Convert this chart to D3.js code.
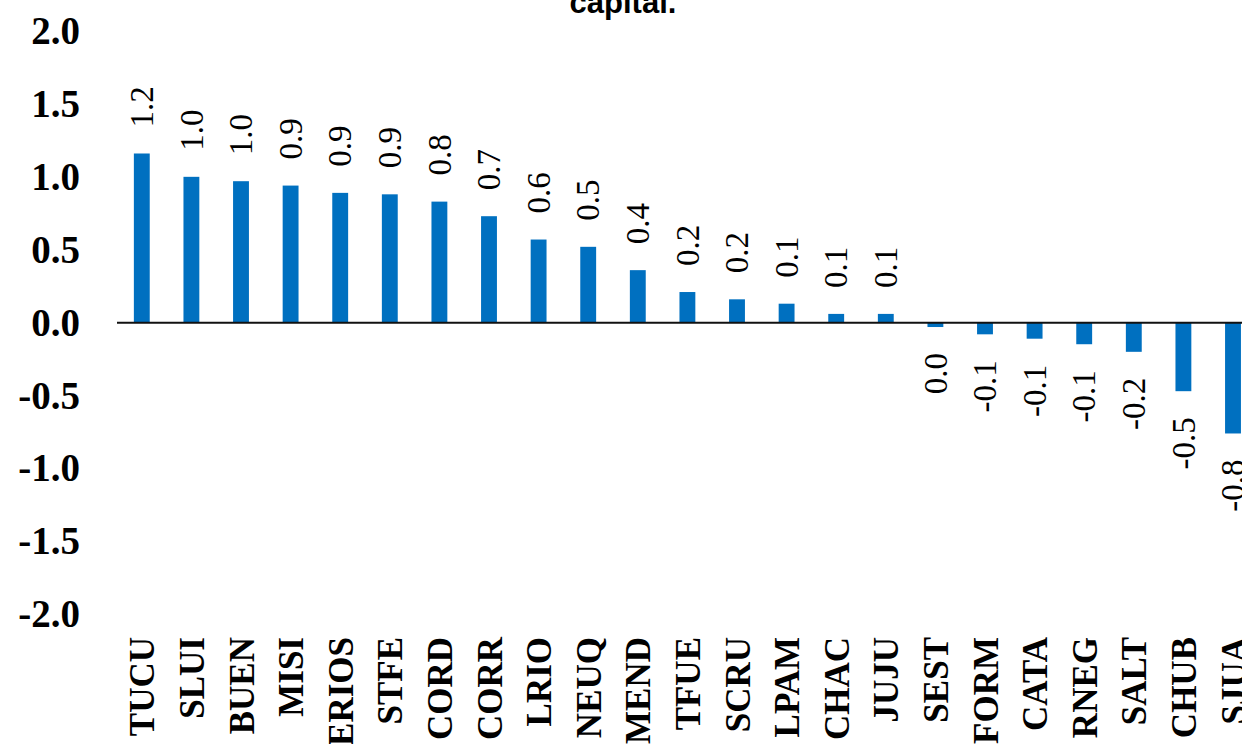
<!DOCTYPE html>
<html>
<head>
<meta charset="utf-8">
<script src="https://cdn.jsdelivr.net/npm/d3@7"></script>
<style>
  html, body { margin: 0; padding: 0; background: #fff; overflow: hidden; }
  svg { display: block; }
</style>
</head>
<body>
<div id="chart"></div>
<script>
// Provinces and their values
var provinces = ["TUCU", "SLUI", "BUEN", "MISI", "ERIOS", "STFE", "CORD", "CORR",
                 "LRIO", "NEUQ", "MEND", "TFUE", "SCRU", "LPAM", "CHAC", "JUJU",
                 "SEST", "FORM", "CATA", "RNEG", "SALT", "CHUB", "SJUA"];
var values = [1.16, 1.00, 0.97, 0.94, 0.89, 0.88, 0.83, 0.73,
              0.57, 0.52, 0.36, 0.21, 0.16, 0.13, 0.06, 0.06,
              -0.03, -0.08, -0.11, -0.148, -0.20, -0.47, -0.76];
var yTicks = [-2.0, -1.5, -1.0, -0.5, 0.0, 0.5, 1.0, 1.5, 2.0];
var titleText = "capital.";

var data = provinces.map(function (p, i) { return { name: p, value: values[i] }; });

var W = 1242, H = 744;
var fmt = d3.formatLocale({ decimal: ".", thousands: ",", grouping: [3], currency: ["", ""], minus: "-" }).format(".1f");

var svg = d3.select("#chart").append("svg")
    .attr("width", W)
    .attr("height", H);

// Scales
var x = d3.scaleBand()
    .domain(provinces)
    .range([117, 117 + 49.6 * provinces.length])
    .paddingInner(0.68)
    .paddingOuter(0.34);

var y = d3.scaleLinear()
    .domain([-2, 2])
    .range([614.3, 31]);

// Title (last line only visible)
svg.append("text")
    .attr("x", 623)
    .attr("y", 13)
    .attr("text-anchor", "middle")
    .attr("font-family", "'Liberation Sans', Arial, sans-serif")
    .attr("font-weight", "bold")
    .attr("font-size", "31px")
    .attr("fill", "#000")
    .text(titleText);

// Y axis
var yAxis = svg.append("g")
    .attr("transform", "translate(117,0)")
    .call(d3.axisLeft(y).tickValues(yTicks).tickFormat(fmt).tickSize(0).tickPadding(37));
yAxis.select(".domain").remove();
yAxis.selectAll("text")
    .attr("font-family", "'Liberation Serif', 'Times New Roman', serif")
    .attr("font-weight", "bold")
    .attr("font-size", "39px")
    .attr("fill", "#000");

// Bars
svg.selectAll(".bar")
    .data(data)
    .enter().append("rect")
    .attr("class", "bar")
    .attr("x", function (d) { return x(d.name); })
    .attr("width", x.bandwidth())
    .attr("y", function (d) { return y(Math.max(0, d.value)); })
    .attr("height", function (d) { return Math.abs(y(d.value) - y(0)); })
    .attr("fill", "#0070C0");

// Zero line
svg.append("line")
    .attr("x1", 117)
    .attr("x2", W)
    .attr("y1", y(0))
    .attr("y2", y(0))
    .attr("stroke", "#111")
    .attr("stroke-width", 2);

// Value labels
svg.selectAll(".val")
    .data(data)
    .enter().append("text")
    .attr("class", "val")
    .attr("transform", function (d) {
        var cx = x(d.name) + x.bandwidth() / 2;
        var yy = d.value >= 0 ? y(d.value) - 26 : y(d.value) + 26;
        return "translate(" + cx + "," + yy + ") rotate(-90)";
    })
    .attr("dy", "0.34em")
    .attr("text-anchor", function (d) { return d.value >= 0 ? "start" : "end"; })
    .attr("font-family", "'Liberation Serif', 'Times New Roman', serif")
    .attr("font-size", "33px")
    .attr("fill", "#000")
    .text(function (d) { return fmt(d.value); });

// Category labels
svg.selectAll(".cat")
    .data(data)
    .enter().append("text")
    .attr("class", "cat")
    .attr("transform", function (d) {
        return "translate(" + (x(d.name) + x.bandwidth() / 2 + 1) + ",637) rotate(-90)";
    })
    .attr("dy", "0.33em")
    .attr("text-anchor", "end")
    .attr("font-family", "'Liberation Serif', 'Times New Roman', serif")
    .attr("font-weight", "bold")
    .attr("font-size", "35px")
    .attr("fill", "#000")
    .text(function (d) { return d.name; });
</script>
</body>
</html>
